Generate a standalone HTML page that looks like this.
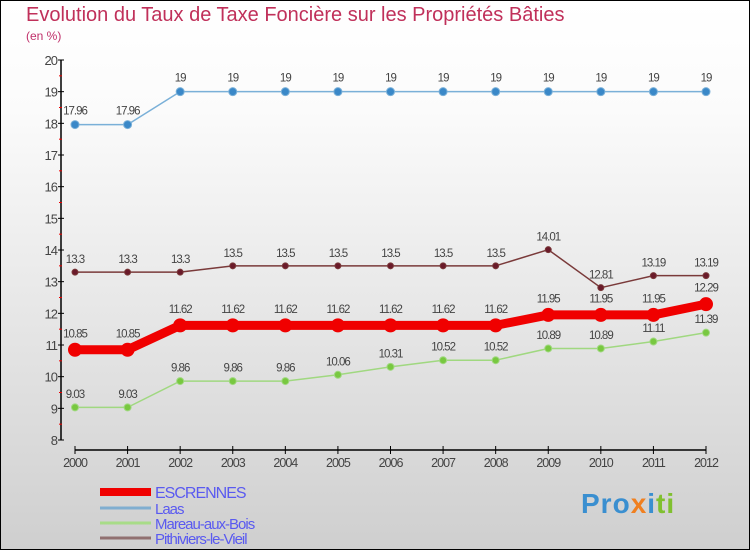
<!DOCTYPE html>
<html><head><meta charset="utf-8"><style>
body{margin:0}
#c{width:750px;height:550px;position:relative;box-sizing:border-box;border:1px solid #000;background:linear-gradient(#ffffff,#fbfbfb 20%,#cfcfcf);font-family:"Liberation Sans",sans-serif;overflow:hidden}
</style></head><body>
<div id="c">
<svg id="s" width="750" height="550" style="position:absolute;left:-1px;top:-1px">
<text x="26" y="21" font-size="20" fill="#c0305a">Evolution du Taux de Taxe Foncière sur les Propriétés Bâties</text>
<text x="26" y="40" font-size="12" fill="#c0306a">(en %)</text>
</svg>
<div style="position:absolute;left:580px;top:487px;font-size:28px;font-weight:bold;letter-spacing:1px;font-family:'Liberation Sans',sans-serif"><span style="color:#3a8fd0">Pro</span><span style="color:#f08020">x</span><span style="color:#3a8fd0">i</span><span style="color:#80c030">ti</span></div>
</div>
<script>
const years=[2000,2001,2002,2003,2004,2005,2006,2007,2008,2009,2010,2011,2012];
const escrennes=[10.85,10.85,11.62,11.62,11.62,11.62,11.62,11.62,11.62,11.95,11.95,11.95,12.29];
const laas=[17.96,17.96,19,19,19,19,19,19,19,19,19,19,19];
const mareau=[9.03,9.03,9.86,9.86,9.86,10.06,10.31,10.52,10.52,10.89,10.89,11.11,11.39];
const pithiviers=[13.3,13.3,13.3,13.5,13.5,13.5,13.5,13.5,13.5,14.01,12.81,13.19,13.19];
const yTicks=[8,9,10,11,12,13,14,15,16,17,18,19,20];
const NS="http://www.w3.org/2000/svg";
const svg=document.getElementById('s');
const X=i=>75+i*(706-75)/(years.length-1);
const Y=v=>440-(v-8)*(380/12);
function mk(t,a,p){const e=document.createElementNS(NS,t);for(const k in a)e.setAttribute(k,a[k]);(p||svg).appendChild(e);return e;}
// y axis
let ya=mk('line',{x1:61,y1:60,x2:61,y2:440,stroke:'#000','stroke-width':1.5});


yTicks.forEach(v=>{
 mk('line',{x1:58,y1:Y(v),x2:64,y2:Y(v),stroke:'#000'});
 if(v<20){mk('line',{x1:59,y1:Y(v+0.5),x2:62,y2:Y(v+0.5),stroke:'#e00'});}
 const t=mk('text',{x:57,y:Y(v)+5,'text-anchor':'end','font-size':13,fill:'#444','letter-spacing':'-1'});
 t.textContent=v;
 
 
});
let xa=mk('line',{x1:75,y1:450,x2:706,y2:450,stroke:'#000','stroke-width':1.5});


years.forEach((yr,i)=>{
 mk('line',{x1:X(i),y1:446,x2:X(i),y2:454,stroke:'#000'});
 const t=mk('text',{x:X(i),y:467,'text-anchor':'middle','font-size':12.5,fill:'#444','letter-spacing':'-1'});
 t.textContent=yr;
 
 
});
function series(vals,name,color,dot,w,r,below){
 const g=mk('g',{});
 
 
 mk('polyline',{points:vals.map((v,i)=>X(i)+','+Y(v)).join(' '),fill:'none',stroke:color,'stroke-width':w,'stroke-linejoin':'round'},g);
 vals.forEach((v,i)=>{
  const c=mk('circle',{cx:X(i),cy:Y(v),r:r,fill:dot,stroke:color,'stroke-width':1},g);
  
  
  const t=mk('text',{x:X(i),y:Y(v)-(below?-0:0)-(r+6),'text-anchor':'middle','font-size':11.5,fill:'#444','letter-spacing':'-1'},g);
  t.textContent=v;
  
  
 });
}
series(laas,'laas','#7ab0d8','#3a88c8',1.5,4);
series(pithiviers,'pithiviers','#7a3a3a','#6a1a2a',1.5,3);
series(mareau,'mareau','#a0d880','#78c840',1.5,3.5);
series(escrennes,'escrennes','#f00000','#f00000',9,6.5);
// legend
const leg=[['ESCRENNES','#f00000',8],['Laas','#80aed0',3],['Mareau-aux-Bois','#a8dc88',3],['Pithiviers-le-Vieil','#907070',3]];
const ly=[492,508,523,538];
leg.forEach((l,i)=>{
 const g=mk('g',{});
 
 
 mk('line',{x1:100,y1:ly[i],x2:151,y2:ly[i],stroke:l[1],'stroke-width':l[2]},g);
 const t=mk('text',{x:155,y:ly[i]+6,'font-size':i==0?16:15,fill:'#5a5af0','letter-spacing':'-1'},g);
 t.textContent=l[0];
});
</script>
</body></html>
